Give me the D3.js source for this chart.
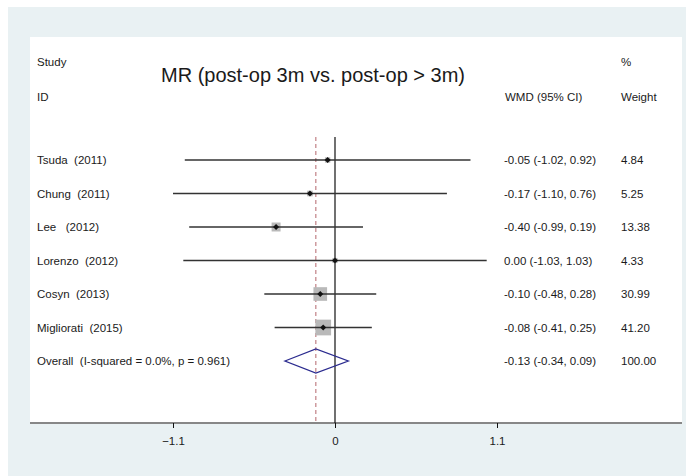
<!DOCTYPE html>
<html><head><meta charset="utf-8">
<script src="https://cdn.jsdelivr.net/npm/d3@7"></script>
<style>body{margin:0;background:#fff}svg{display:block;font-family:"Liberation Sans",Arial,Helvetica,sans-serif}</style>
</head><body><svg id="c" width="686" height="476"></svg>
<script>
const studies = ["Tsuda  (2011)","Chung  (2011)","Lee   (2012)","Lorenzo  (2012)","Cosyn  (2013)","Migliorati  (2015)"];
const estimates = [-0.05,-0.17,-0.40,0.00,-0.10,-0.08];
const lower = [-1.02,-1.10,-0.99,-1.03,-0.48,-0.41];
const upper = [0.92,0.76,0.19,1.03,0.28,0.25];
const weights = [4.84,5.25,13.38,4.33,30.99,41.20];
const ciLabels = ["-0.05 (-1.02, 0.92)","-0.17 (-1.10, 0.76)","-0.40 (-0.99, 0.19)","0.00 (-1.03, 1.03)","-0.10 (-0.48, 0.28)","-0.08 (-0.41, 0.25)"];
const weightLabels = ["4.84","5.25","13.38","4.33","30.99","41.20"];
const overallLabel = "Overall  (I-squared = 0.0%, p = 0.961)";
const overall = {est:-0.13, lo:-0.34, hi:0.09};
const overallCI = "-0.13 (-0.34, 0.09)";
const overallWeight = "100.00";
const tickValues = [-1.1, 0, 1.1];
const title = "MR (post-op 3m vs. post-op > 3m)";

const svg = d3.select("#c");
svg.append("rect").attr("x",8).attr("y",7).attr("width",678).attr("height",469).attr("fill","#e9f1f3");
svg.append("rect").attr("x",30).attr("y",37).attr("width",652).attr("height",387).attr("fill","#fff");

const x = d3.scaleLinear().domain([-1.1,1.1]).range([173,497]);
const rows = studies.concat(["Overall"]);
const y = d3.scalePoint().domain(rows).range([160,361]);
const txt = "#1a1a1a";
const fs = 11.5;

// headers
const hdr = svg.append("g").attr("font-size",fs).attr("fill",txt);
hdr.append("text").attr("x",37).attr("y",66).text("Study");
hdr.append("text").attr("x",37).attr("y",101).text("ID");
hdr.append("text").attr("x",621).attr("y",66).text("%");
hdr.append("text").attr("x",621).attr("y",101).text("Weight");
hdr.append("text").attr("x",505).attr("y",101).text("WMD (95% CI)");
svg.append("text").attr("x",313).attr("y",82).attr("text-anchor","middle").attr("font-size",20).attr("fill",txt).text(title);

// reference lines
const axisY = 423;
svg.append("line").attr("x1",x(0)).attr("x2",x(0)).attr("y1",137).attr("y2",axisY).attr("stroke","#111").attr("stroke-width",1.2);
svg.append("line").attr("x1",x(overall.est)).attr("x2",x(overall.est)).attr("y1",137).attr("y2",axisY)
  .attr("stroke","#b5676d").attr("stroke-width",1).attr("stroke-dasharray","4,3");

// boxes
const k = 2.45;
svg.selectAll("rect.box").data(studies).join("rect").attr("class","box")
  .attr("x",(d,i)=>x(estimates[i])-k*Math.sqrt(weights[i])/2)
  .attr("y",(d,i)=>y(d)-k*Math.sqrt(weights[i])/2)
  .attr("width",(d,i)=>k*Math.sqrt(weights[i]))
  .attr("height",(d,i)=>k*Math.sqrt(weights[i]))
  .attr("fill","#b9b9b9");
// CI lines
svg.selectAll("line.ci").data(studies).join("line").attr("class","ci")
  .attr("x1",(d,i)=>x(lower[i])).attr("x2",(d,i)=>x(upper[i]))
  .attr("y1",d=>y(d)).attr("y2",d=>y(d)).attr("stroke","#333").attr("stroke-width",1.3);
// point estimates
svg.selectAll("path.pt").data(studies).join("path").attr("class","pt")
  .attr("d",(d,i)=>{const cx=x(estimates[i]),cy=y(d),r=3;return `M${cx-r},${cy}L${cx},${cy-r}L${cx+r},${cy}L${cx},${cy+r}Z`;})
  .attr("fill","#111");
// overall diamond
const oy = y("Overall");
svg.append("path").attr("d",`M${x(overall.lo)},${oy}L${x(overall.est)},${oy-12}L${x(overall.hi)},${oy}L${x(overall.est)},${oy+12}Z`)
  .attr("fill","none").attr("stroke","#2b2b8f").attr("stroke-width",1.3);

// row text
const rt = svg.append("g").attr("font-size",fs).attr("fill",txt);
rt.selectAll("text.s").data(studies).join("text").attr("class","s").attr("x",37).attr("y",d=>y(d)+4).style("white-space","pre").text(d=>d);
rt.append("text").attr("x",37).attr("y",oy+4).style("white-space","pre").text(overallLabel);
rt.selectAll("text.c").data(studies).join("text").attr("class","c").attr("x",504).attr("y",d=>y(d)+4).text((d,i)=>ciLabels[i]);
rt.append("text").attr("x",504).attr("y",oy+4).text(overallCI);
rt.selectAll("text.w").data(studies).join("text").attr("class","w").attr("x",621).attr("y",d=>y(d)+4).text((d,i)=>weightLabels[i]);
rt.append("text").attr("x",621).attr("y",oy+4).text(overallWeight);

// axis
const ax = svg.append("g").attr("transform",`translate(0,${axisY})`)
  .call(d3.axisBottom(x).tickValues(tickValues).tickSize(5).tickFormat(d=>d===0?"0":d3.format(".1f")(d)));
ax.select(".domain").remove();
ax.selectAll(".tick line").attr("stroke","#111");
ax.selectAll(".tick text").attr("font-size",fs).attr("fill",txt).attr("font-family","Liberation Sans, Arial, sans-serif").attr("dy","1.25em");
svg.append("line").attr("x1",30).attr("x2",682).attr("y1",axisY).attr("y2",axisY).attr("stroke","#111").attr("stroke-width",1.2);
</script></body></html>
